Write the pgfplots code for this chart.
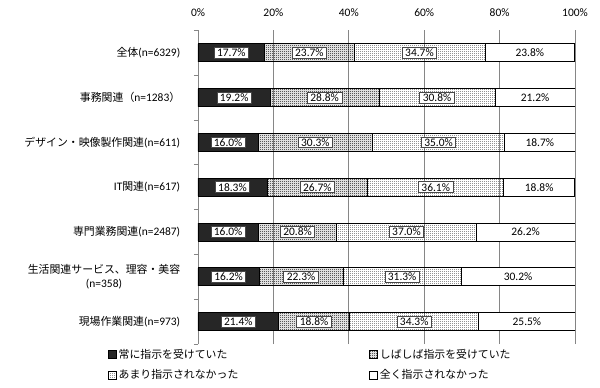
\documentclass[border=0pt]{standalone}
\usepackage{fontspec}
\setmainfont{Carlito}
\newfontfamily\jp[Scale=0.95]{Noto Sans CJK JP}
\usepackage{pgfplots}
\usepackage{pgfplotstable}
\pgfplotsset{compat=1.18}
\usetikzlibrary{patterns}
\definecolor{dk}{HTML}{262626}
\definecolor{gridc}{HTML}{868686}
\pgfdeclarepatternformonly{checker}{\pgfpointorigin}{\pgfpoint{2bp}{2bp}}{\pgfpoint{2bp}{2bp}}{%
  \pgfpathrectangle{\pgfpointorigin}{\pgfpoint{1bp}{1bp}}%
  \pgfpathrectangle{\pgfpoint{1bp}{1bp}}{\pgfpoint{1bp}{1bp}}%
  \pgfusepath{fill}}
\pgfdeclarepatternformonly{dotsq}{\pgfpointorigin}{\pgfpoint{2bp}{2bp}}{\pgfpoint{2bp}{2bp}}{%
  \pgfpathrectangle{\pgfpointorigin}{\pgfpoint{1bp}{1bp}}%
  \pgfusepath{fill}}
\pgfplotstableread{
y a b c d
6 17.7 23.7 34.7 23.8
5 19.2 28.8 30.8 21.2
4 16.0 30.3 35.0 18.7
3 18.3 26.7 36.1 18.8
2 16.0 20.8 37.0 26.2
1 16.2 22.3 31.3 30.2
0 21.4 18.8 34.3 25.5
}\data
\newcommand{\fs}{\fontsize{11.5}{14}\selectfont}
\begin{document}
\begin{tikzpicture}
\begin{axis}[
  x=3.77bp, y=44.8bp,
  xmin=0, xmax=100, ymin=-0.5, ymax=6.5,
  xbar stacked, bar width=0.4,
  axis x line*=top, axis y line*=left,
  x axis line style={draw=none},
  y axis line style={draw=gridc, line width=0.75bp},
  xtick={0,20,...,100},
  xticklabel={\pgfmathprintnumber{\tick}\%},
  /pgf/number format/assume math mode=true,
  xticklabel style={font=\fs, yshift=6bp},
  major x tick style={draw=none},
  xmajorgrids, major x grid style={draw=gridc, line width=0.75bp},
  ytick={0,...,6},
  yticklabels={{\jp 現場作業関連}(n=973), {\jp 生活関連サービス、理容・美容}\\(n=358), {\jp 専門業務関連}(n=2487), IT{\jp 関連}(n=617), {\jp デザイン・映像製作関連}(n=611), {\jp 事務関連（}n=1283{\jp ）}, {\jp 全体}(n=6329)},
  yticklabel style={font=\fs, align=center, xshift=-10bp},
  major y tick style={draw=none},
  minor ytick={-0.5,0.5,...,6.5},
  minor y tick style={draw=gridc, line width=0.75bp},
  minor tick length=4bp,
  tick align=outside,
  legend columns=2,
  legend cell align=left,
  legend style={draw=none, at={(axis description cs:-0.247,-0.003)}, anchor=north west, font=\jp\fs, row sep=6bp, /tikz/every even column/.append style={column sep=129bp}},
  legend image code/.code={\draw[#1, line width=0.6bp] (0bp,-4bp) rectangle (8bp,4bp);},
]
\addplot[fill=dk, draw=black, line width=0.75bp] table[x=a,y=y]{\data};
\addlegendentry{常に指示を受けていた}
\addplot[pattern=checker, draw=black, line width=0.75bp] table[x=b,y=y]{\data};
\addlegendentry{しばしば指示を受けていた}
\addplot[pattern=dotsq, draw=black, line width=0.75bp] table[x=c,y=y]{\data};
\addlegendentry{あまり指示されなかった}
\addplot[fill=white, draw=black, line width=0.75bp] table[x=d,y=y]{\data};
\addlegendentry{全く指示されなかった}
\end{axis}
\begin{axis}[
  x=3.77bp, y=44.8bp,
  xmin=0, xmax=100, ymin=-0.5, ymax=6.5,
  hide axis, clip=false,
  point meta=explicit,
  /pgf/number format/assume math mode=true,
  nodes near coords={\pgfmathprintnumber[fixed,fixed zerofill,precision=1,assume math mode=true]{\pgfplotspointmeta}\%},
  nodes near coords align=center,
  every node near coord/.append style={anchor=center, fill=white, draw=dk!85, line width=0.75bp, inner xsep=3bp, inner ysep=1.5bp, font=\fs, text=black},
]
\addplot[draw=none, mark=none] table[x expr={\thisrow{a}/2}, y=y, meta=a]{\data};
\addplot[draw=none, mark=none] table[x expr={\thisrow{a}+\thisrow{b}/2}, y=y, meta=b]{\data};
\addplot[draw=none, mark=none] table[x expr={\thisrow{a}+\thisrow{b}+\thisrow{c}/2}, y=y, meta=c]{\data};
\addplot[draw=none, mark=none, every node near coord/.append style={draw=none}] table[x expr={\thisrow{a}+\thisrow{b}+\thisrow{c}+\thisrow{d}/2}, y=y, meta=d]{\data};
\end{axis}
\path (-198bp,-44bp) rectangle (402bp,344bp);
\end{tikzpicture}
\end{document}
